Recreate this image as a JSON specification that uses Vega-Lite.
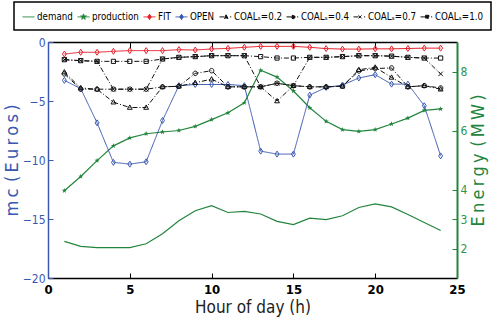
{
  "$schema": "https://vega.github.io/schema/vega-lite/v6.json",
  "width": 409,
  "height": 236,
  "autosize": {"type": "none"},
  "padding": {"left": 48, "top": 42, "right": 43, "bottom": 42},
  "background": "white",
  "config": {
    "view": {"stroke": null},
    "font": "Liberation Sans Narrow, DejaVu Sans Condensed, Liberation Sans",
    "axis": {"grid": false, "titleFontWeight": "normal", "labelFlush": false, "labelOverlap": false}
  },
  "datasets": {
    "energy": [
      {"hour": 1, "series": "demand", "mw": 2.24}, {"hour": 2, "series": "demand", "mw": 2.07}, {"hour": 3, "series": "demand", "mw": 2.03}, {"hour": 4, "series": "demand", "mw": 2.03}, {"hour": 5, "series": "demand", "mw": 2.03}, {"hour": 6, "series": "demand", "mw": 2.16}, {"hour": 7, "series": "demand", "mw": 2.5}, {"hour": 8, "series": "demand", "mw": 2.94}, {"hour": 9, "series": "demand", "mw": 3.28}, {"hour": 10, "series": "demand", "mw": 3.45}, {"hour": 11, "series": "demand", "mw": 3.22}, {"hour": 12, "series": "demand", "mw": 3.26}, {"hour": 13, "series": "demand", "mw": 3.17}, {"hour": 14, "series": "demand", "mw": 2.92}, {"hour": 15, "series": "demand", "mw": 2.81}, {"hour": 16, "series": "demand", "mw": 3.03}, {"hour": 17, "series": "demand", "mw": 2.98}, {"hour": 18, "series": "demand", "mw": 3.11}, {"hour": 19, "series": "demand", "mw": 3.39}, {"hour": 20, "series": "demand", "mw": 3.51}, {"hour": 21, "series": "demand", "mw": 3.41}, {"hour": 22, "series": "demand", "mw": 3.15}, {"hour": 23, "series": "demand", "mw": 2.88}, {"hour": 24, "series": "demand", "mw": 2.61},
      {"hour": 1, "series": "production", "mw": 3.96}, {"hour": 2, "series": "production", "mw": 4.44}, {"hour": 3, "series": "production", "mw": 4.98}, {"hour": 4, "series": "production", "mw": 5.48}, {"hour": 5, "series": "production", "mw": 5.75}, {"hour": 6, "series": "production", "mw": 5.89}, {"hour": 7, "series": "production", "mw": 5.95}, {"hour": 8, "series": "production", "mw": 6.0}, {"hour": 9, "series": "production", "mw": 6.14}, {"hour": 10, "series": "production", "mw": 6.37}, {"hour": 11, "series": "production", "mw": 6.6}, {"hour": 12, "series": "production", "mw": 6.94}, {"hour": 13, "series": "production", "mw": 8.04}, {"hour": 14, "series": "production", "mw": 7.81}, {"hour": 15, "series": "production", "mw": 7.34}, {"hour": 16, "series": "production", "mw": 6.77}, {"hour": 17, "series": "production", "mw": 6.31}, {"hour": 18, "series": "production", "mw": 6.03}, {"hour": 19, "series": "production", "mw": 5.97}, {"hour": 20, "series": "production", "mw": 6.03}, {"hour": 21, "series": "production", "mw": 6.22}, {"hour": 22, "series": "production", "mw": 6.42}, {"hour": 23, "series": "production", "mw": 6.68}, {"hour": 24, "series": "production", "mw": 6.73}
    ],
    "mc": [
      {"hour": 1, "series": "FIT", "m": -1.02}, {"hour": 2, "series": "FIT", "m": -0.87}, {"hour": 3, "series": "FIT", "m": -0.87}, {"hour": 4, "series": "FIT", "m": -0.79}, {"hour": 5, "series": "FIT", "m": -0.73}, {"hour": 6, "series": "FIT", "m": -0.73}, {"hour": 7, "series": "FIT", "m": -0.73}, {"hour": 8, "series": "FIT", "m": -0.65}, {"hour": 9, "series": "FIT", "m": -0.68}, {"hour": 10, "series": "FIT", "m": -0.59}, {"hour": 11, "series": "FIT", "m": -0.54}, {"hour": 12, "series": "FIT", "m": -0.45}, {"hour": 13, "series": "FIT", "m": -0.37}, {"hour": 14, "series": "FIT", "m": -0.37}, {"hour": 15, "series": "FIT", "m": -0.37}, {"hour": 16, "series": "FIT", "m": -0.45}, {"hour": 17, "series": "FIT", "m": -0.56}, {"hour": 18, "series": "FIT", "m": -0.6}, {"hour": 19, "series": "FIT", "m": -0.6}, {"hour": 20, "series": "FIT", "m": -0.58}, {"hour": 21, "series": "FIT", "m": -0.58}, {"hour": 22, "series": "FIT", "m": -0.55}, {"hour": 23, "series": "FIT", "m": -0.52}, {"hour": 24, "series": "FIT", "m": -0.52},
      {"hour": 1, "series": "OPEN", "m": -3.25}, {"hour": 2, "series": "OPEN", "m": -3.95}, {"hour": 3, "series": "OPEN", "m": -6.85}, {"hour": 4, "series": "OPEN", "m": -10.2}, {"hour": 5, "series": "OPEN", "m": -10.35}, {"hour": 6, "series": "OPEN", "m": -10.15}, {"hour": 7, "series": "OPEN", "m": -6.65}, {"hour": 8, "series": "OPEN", "m": -3.7}, {"hour": 9, "series": "OPEN", "m": -3.6}, {"hour": 10, "series": "OPEN", "m": -3.6}, {"hour": 11, "series": "OPEN", "m": -3.6}, {"hour": 12, "series": "OPEN", "m": -3.7}, {"hour": 13, "series": "OPEN", "m": -9.25}, {"hour": 14, "series": "OPEN", "m": -9.5}, {"hour": 15, "series": "OPEN", "m": -9.5}, {"hour": 16, "series": "OPEN", "m": -4.5}, {"hour": 17, "series": "OPEN", "m": -3.85}, {"hour": 18, "series": "OPEN", "m": -3.65}, {"hour": 19, "series": "OPEN", "m": -3.05}, {"hour": 20, "series": "OPEN", "m": -2.77}, {"hour": 21, "series": "OPEN", "m": -3.57}, {"hour": 22, "series": "OPEN", "m": -3.57}, {"hour": 23, "series": "OPEN", "m": -5.4}, {"hour": 24, "series": "OPEN", "m": -9.65},
      {"hour": 1, "series": "COALₛ=0.2", "m": -2.55}, {"hour": 2, "series": "COALₛ=0.2", "m": -3.9}, {"hour": 3, "series": "COALₛ=0.2", "m": -4.0}, {"hour": 4, "series": "COALₛ=0.2", "m": -5.1}, {"hour": 5, "series": "COALₛ=0.2", "m": -5.55}, {"hour": 6, "series": "COALₛ=0.2", "m": -5.55}, {"hour": 7, "series": "COALₛ=0.2", "m": -3.8}, {"hour": 8, "series": "COALₛ=0.2", "m": -3.75}, {"hour": 9, "series": "COALₛ=0.2", "m": -3.45}, {"hour": 10, "series": "COALₛ=0.2", "m": -3.15}, {"hour": 11, "series": "COALₛ=0.2", "m": -3.8}, {"hour": 12, "series": "COALₛ=0.2", "m": -3.8}, {"hour": 13, "series": "COALₛ=0.2", "m": -3.8}, {"hour": 14, "series": "COALₛ=0.2", "m": -5.0}, {"hour": 15, "series": "COALₛ=0.2", "m": -3.7}, {"hour": 16, "series": "COALₛ=0.2", "m": -3.8}, {"hour": 17, "series": "COALₛ=0.2", "m": -3.8}, {"hour": 18, "series": "COALₛ=0.2", "m": -3.75}, {"hour": 19, "series": "COALₛ=0.2", "m": -2.35}, {"hour": 20, "series": "COALₛ=0.2", "m": -2.15}, {"hour": 21, "series": "COALₛ=0.2", "m": -3.0}, {"hour": 22, "series": "COALₛ=0.2", "m": -3.8}, {"hour": 23, "series": "COALₛ=0.2", "m": -3.7}, {"hour": 24, "series": "COALₛ=0.2", "m": -4.0},
      {"hour": 1, "series": "COALₛ=0.4", "m": -2.7}, {"hour": 2, "series": "COALₛ=0.4", "m": -4.0}, {"hour": 3, "series": "COALₛ=0.4", "m": -4.0}, {"hour": 4, "series": "COALₛ=0.4", "m": -4.0}, {"hour": 5, "series": "COALₛ=0.4", "m": -4.0}, {"hour": 6, "series": "COALₛ=0.4", "m": -4.0}, {"hour": 7, "series": "COALₛ=0.4", "m": -3.8}, {"hour": 8, "series": "COALₛ=0.4", "m": -3.75}, {"hour": 9, "series": "COALₛ=0.4", "m": -2.66}, {"hour": 10, "series": "COALₛ=0.4", "m": -2.43}, {"hour": 11, "series": "COALₛ=0.4", "m": -3.8}, {"hour": 12, "series": "COALₛ=0.4", "m": -3.8}, {"hour": 13, "series": "COALₛ=0.4", "m": -3.8}, {"hour": 14, "series": "COALₛ=0.4", "m": -3.5}, {"hour": 15, "series": "COALₛ=0.4", "m": -3.7}, {"hour": 16, "series": "COALₛ=0.4", "m": -3.8}, {"hour": 17, "series": "COALₛ=0.4", "m": -3.8}, {"hour": 18, "series": "COALₛ=0.4", "m": -3.75}, {"hour": 19, "series": "COALₛ=0.4", "m": -2.45}, {"hour": 20, "series": "COALₛ=0.4", "m": -2.25}, {"hour": 21, "series": "COALₛ=0.4", "m": -2.2}, {"hour": 22, "series": "COALₛ=0.4", "m": -3.8}, {"hour": 23, "series": "COALₛ=0.4", "m": -3.7}, {"hour": 24, "series": "COALₛ=0.4", "m": -3.9},
      {"hour": 1, "series": "COALₛ=0.7", "m": -1.5}, {"hour": 2, "series": "COALₛ=0.7", "m": -1.58}, {"hour": 3, "series": "COALₛ=0.7", "m": -1.64}, {"hour": 4, "series": "COALₛ=0.7", "m": -4.0}, {"hour": 5, "series": "COALₛ=0.7", "m": -4.0}, {"hour": 6, "series": "COALₛ=0.7", "m": -4.0}, {"hour": 7, "series": "COALₛ=0.7", "m": -1.44}, {"hour": 8, "series": "COALₛ=0.7", "m": -1.3}, {"hour": 9, "series": "COALₛ=0.7", "m": -1.24}, {"hour": 10, "series": "COALₛ=0.7", "m": -1.16}, {"hour": 11, "series": "COALₛ=0.7", "m": -1.16}, {"hour": 12, "series": "COALₛ=0.7", "m": -1.16}, {"hour": 13, "series": "COALₛ=0.7", "m": -3.8}, {"hour": 14, "series": "COALₛ=0.7", "m": -3.5}, {"hour": 15, "series": "COALₛ=0.7", "m": -3.7}, {"hour": 16, "series": "COALₛ=0.7", "m": -1.3}, {"hour": 17, "series": "COALₛ=0.7", "m": -1.3}, {"hour": 18, "series": "COALₛ=0.7", "m": -1.24}, {"hour": 19, "series": "COALₛ=0.7", "m": -1.16}, {"hour": 20, "series": "COALₛ=0.7", "m": -1.16}, {"hour": 21, "series": "COALₛ=0.7", "m": -1.2}, {"hour": 22, "series": "COALₛ=0.7", "m": -1.3}, {"hour": 23, "series": "COALₛ=0.7", "m": -1.36}, {"hour": 24, "series": "COALₛ=0.7", "m": -2.7},
      {"hour": 1, "series": "COALₛ=1.0", "m": -1.5}, {"hour": 2, "series": "COALₛ=1.0", "m": -1.58}, {"hour": 3, "series": "COALₛ=1.0", "m": -1.64}, {"hour": 4, "series": "COALₛ=1.0", "m": -1.64}, {"hour": 5, "series": "COALₛ=1.0", "m": -1.64}, {"hour": 6, "series": "COALₛ=1.0", "m": -1.64}, {"hour": 7, "series": "COALₛ=1.0", "m": -1.44}, {"hour": 8, "series": "COALₛ=1.0", "m": -1.3}, {"hour": 9, "series": "COALₛ=1.0", "m": -1.24}, {"hour": 10, "series": "COALₛ=1.0", "m": -1.16}, {"hour": 11, "series": "COALₛ=1.0", "m": -1.16}, {"hour": 12, "series": "COALₛ=1.0", "m": -1.16}, {"hour": 13, "series": "COALₛ=1.0", "m": -1.24}, {"hour": 14, "series": "COALₛ=1.0", "m": -1.36}, {"hour": 15, "series": "COALₛ=1.0", "m": -1.36}, {"hour": 16, "series": "COALₛ=1.0", "m": -1.3}, {"hour": 17, "series": "COALₛ=1.0", "m": -1.3}, {"hour": 18, "series": "COALₛ=1.0", "m": -1.24}, {"hour": 19, "series": "COALₛ=1.0", "m": -1.16}, {"hour": 20, "series": "COALₛ=1.0", "m": -1.16}, {"hour": 21, "series": "COALₛ=1.0", "m": -1.2}, {"hour": 22, "series": "COALₛ=1.0", "m": -1.3}, {"hour": 23, "series": "COALₛ=1.0", "m": -1.36}, {"hour": 24, "series": "COALₛ=1.0", "m": -1.36}
    ]
  },
  "encoding": {
    "color": {
      "field": "series", "type": "nominal",
      "scale": {
        "domain": ["demand", "production", "FIT", "OPEN", "COALₛ=0.2", "COALₛ=0.4", "COALₛ=0.7", "COALₛ=1.0"],
        "range": ["#23853d", "#23853d", "#e8202a", "#3a58b0", "#111111", "#111111", "#111111", "#111111"]
      },
      "legend": {
        "orient": "none", "legendX": -34, "legendY": -40,
        "direction": "horizontal", "columns": 8, "title": null,
        "strokeColor": "black", "padding": 8,
        "symbolSize": 144, "symbolStrokeWidth": 1,
        "labelFontSize": 9.7, "labelColor": "black", "labelOffset": 2, "columnPadding": 2, "labelLimit": 200,
        "encode": {
          "legend": {"update": {"strokeWidth": {"value": 1.5}}},
          "symbols": {"update": {
            "shape": {"signal": "datum.value === 'demand' ? 'M-1,0H1' : datum.value === 'production' ? 'M-1,0H1M0,-0.5L0.118,-0.162L0.476,-0.155L0.19,0.062L0.294,0.405L0,0.2L-0.294,0.405L-0.19,0.062L-0.476,-0.155L-0.118,-0.162Z' : (datum.value === 'FIT' || datum.value === 'OPEN') ? 'M-1,0H1M0,-0.45L0.3,0L0,0.45L-0.3,0Z' : datum.value === 'COALₛ=0.2' ? 'M-1,0H0.1M0.1,-0.35L0.42,0.25L-0.22,0.25ZM0.75,0H0.95' : datum.value === 'COALₛ=0.4' ? 'M-1,0H-0.18M0.42,0A0.3,0.3 0 1 1 -0.18,0A0.3,0.3 0 1 1 0.42,0ZM0.75,0H0.95' : datum.value === 'COALₛ=0.7' ? 'M-1,0H0.1M-0.15,-0.25L0.35,0.25M-0.15,0.25L0.35,-0.25M0.75,0H0.95' : 'M-1,0H-0.15M-0.15,-0.27H0.39V0.27H-0.15ZM0.75,0H0.95'"},
            "fill": {"signal": "datum.value === 'production' ? '#23853d' : 'transparent'"},
            "strokeWidth": {"value": 1}
          }}
        }
      }
    }
  },
  "layer": [
    {
      "data": {"name": "energy"},
      "encoding": {
        "x": {"field": "hour", "type": "quantitative", "scale": {"domain": [0, 25], "nice": false},
          "axis": {"orient": "top", "values": [5, 10, 15, 20], "tickSize": -6, "labels": false, "domainColor": "black", "domainWidth": 1.5, "tickColor": "black", "title": null}},
        "y": {"field": "mw", "type": "quantitative", "scale": {"domain": [1, 9], "nice": false, "zero": false},
          "axis": {"orient": "right", "values": [2, 3, 4, 6, 8], "tickSize": -5, "tickColor": "#23853d", "domainColor": "#23853d", "domainWidth": 2, "labelColor": "#2e9450", "labelFontSize": 12, "labelPadding": 8,
            "title": "E\u2009n\u2009e\u2009r\u2009g\u2009y\u2009\u2009(\u2009M\u2009W\u2009)", "titleColor": "#23853d", "titleFontSize": 18, "titleAngle": 270, "titleBaseline": "top", "titlePadding": 3}}
      },
      "layer": [
        {"mark": {"type": "line", "strokeWidth": 1.2}},
        {"transform": [{"filter": "datum.series === 'production'"}],
         "mark": {"type": "point", "filled": true, "size": 30, "opacity": 1},
         "encoding": {"shape": {"field": "series", "type": "nominal", "legend": null,
           "scale": {"domain": ["production", "FIT", "OPEN", "COALₛ=0.2", "COALₛ=0.4", "COALₛ=0.7", "COALₛ=1.0"],
             "range": ["M0,-1L0.235,-0.324L0.951,-0.309L0.38,0.124L0.588,0.809L0,0.4L-0.588,0.809L-0.38,0.124L-0.951,-0.309L-0.235,-0.324Z", "M0,-1L0.65,0L0,1L-0.65,0Z", "M0,-1L0.65,0L0,1L-0.65,0Z", "M0,-0.85L0.8,0.6L-0.8,0.6Z", "M0.75,0A0.75,0.75 0 1 1 -0.75,0A0.75,0.75 0 1 1 0.75,0Z", "M-0.75,-0.75L0.75,0.75M-0.75,0.75L0.75,-0.75", "M-0.7,-0.7H0.7V0.7H-0.7Z"]}}}}
      ]
    },
    {
      "data": {"name": "mc"},
      "encoding": {
        "x": {"field": "hour", "type": "quantitative", "scale": {"domain": [0, 25], "nice": false},
          "axis": {"orient": "bottom", "values": [0, 5, 10, 15, 20, 25], "format": "d", "tickSize": -5, "tickColor": "black", "domainColor": "black", "domainWidth": 1.5, "labelPadding": 10, "labelColor": "black", "labelFontSize": 13, "labelFontWeight": "bold",
            "title": "Hour of day (h)", "titleFontSize": 17, "titleColor": "#222222", "titlePadding": 3}},
        "y": {"field": "m", "type": "quantitative", "scale": {"domain": [-20, 0], "nice": false},
          "axis": {"orient": "left", "values": [-20, -15, -10, -5, 0], "tickSize": -5, "tickColor": "#3a58b0", "domainColor": "#3a58b0", "domainWidth": 1.5, "labelColor": "#3a58b0", "labelFontSize": 12, "labelPadding": 8,
            "title": "m\u2009c\u2009\u2009(\u2009E\u2009u\u2009r\u2009o\u2009s\u2009)", "titleColor": "#3a58b0", "titleFontSize": 18, "titlePadding": 1}}
      },
      "layer": [
        {"mark": {"type": "line", "strokeWidth": 1},
         "encoding": {"strokeDash": {"field": "series", "type": "nominal", "legend": null,
           "scale": {"domain": ["demand", "production", "FIT", "OPEN", "COALₛ=0.2", "COALₛ=0.4", "COALₛ=0.7", "COALₛ=1.0"],
             "range": [[1, 0], [1, 0], [1, 0], [1, 0], [5, 2, 1, 2], [5, 2, 1, 2], [5, 2, 1, 2], [5, 2, 1, 2]]}}}},
        {"mark": {"type": "point", "filled": false, "size": 36, "opacity": 1, "strokeWidth": 1},
         "encoding": {"shape": {"field": "series", "type": "nominal", "legend": null,
           "scale": {"domain": ["production", "FIT", "OPEN", "COALₛ=0.2", "COALₛ=0.4", "COALₛ=0.7", "COALₛ=1.0"],
             "range": ["M0,-1L0.235,-0.324L0.951,-0.309L0.38,0.124L0.588,0.809L0,0.4L-0.588,0.809L-0.38,0.124L-0.951,-0.309L-0.235,-0.324Z", "M0,-1L0.65,0L0,1L-0.65,0Z", "M0,-1L0.65,0L0,1L-0.65,0Z", "M0,-0.85L0.8,0.6L-0.8,0.6Z", "M0.75,0A0.75,0.75 0 1 1 -0.75,0A0.75,0.75 0 1 1 0.75,0Z", "M-0.75,-0.75L0.75,0.75M-0.75,0.75L0.75,-0.75", "M-0.7,-0.7H0.7V0.7H-0.7Z"]}}}}
      ]
    }
  ],
  "resolve": {"scale": {"y": "independent"}, "axis": {"x": "independent"}}
}
